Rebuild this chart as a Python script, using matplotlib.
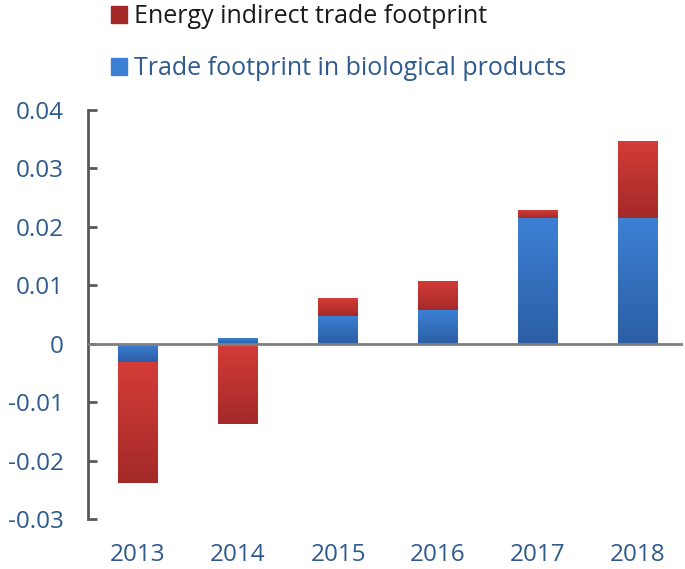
import numpy as np
import matplotlib
matplotlib.use('Agg')
import matplotlib.pyplot as plt
from matplotlib.colors import LinearSegmentedColormap
from matplotlib.patches import Patch

#%% datos
years = ['2013', '2014', '2015', '2016', '2017', '2018']
bio = [-0.0031, 0.0010, 0.0048, 0.0057, 0.0215, 0.0215]     # Trade footprint in biological products
energy = [-0.0207, -0.0137, 0.0030, 0.0050, 0.0013, 0.0132]  # Energy indirect trade footprint
yticks = [-0.03, -0.02, -0.01, 0, 0.01, 0.02, 0.03, 0.04]
ytick_labels = ['-0.03', '-0.02', '-0.01', '0', '0.01', '0.02', '0.03', '0.04']

lab_col = '#2E5A8E'
red_top, red_bot = '#D43C37', '#A42A29'
blue_top, blue_bot = '#3C80D4', '#2C5EA5'

plt.rcParams['font.family'] = ['Open Sans', 'DejaVu Sans']

fig = plt.figure(figsize=(6.85, 5.69), dpi=100)
ax = fig.add_axes([88/685, 1-519/569, (683-88)/685, (519-110)/569])

x = np.arange(len(years))
bio = np.array(bio)
energy = np.array(energy)
# la parte energetica se apila sobre la biologica (mismo signo) o desde 0 (signo opuesto)
base_e = np.where(np.sign(energy) == np.sign(bio), bio, 0.0)

b1 = ax.bar(x, bio, width=0.4, color=blue_bot, zorder=2)
b2 = ax.bar(x, energy, width=0.4, bottom=base_e, color=red_bot, zorder=2)

# gradiente vertical tipo Excel
def gradiente(bars, c_top, c_bot):
    cmap = LinearSegmentedColormap.from_list('g', [c_bot, c_top])
    grad = np.linspace(1, 0, 64).reshape(-1, 1)
    for p in bars:
        x0, y0 = p.get_x(), p.get_y()
        w, h = p.get_width(), p.get_height()
        ylo, yhi = min(y0, y0+h), max(y0, y0+h)
        im = ax.imshow(grad, cmap=cmap, aspect='auto', extent=(x0, x0+w, ylo, yhi),
                       origin='upper', zorder=2.5)
        im.set_clip_path(p)

gradiente(b1, blue_top, blue_bot)
gradiente(b2, red_top, red_bot)

ax.axhline(0, color='#808080', lw=2, zorder=3)

ax.set_xlim(-0.5, 5.45)
ax.set_ylim(-0.03, 0.04)
ax.set_yticks(yticks)
ax.set_yticklabels(ytick_labels)
ax.set_xticks(x)
ax.set_xticklabels(years)

for s in ['top', 'right', 'bottom']:
    ax.spines[s].set_visible(False)
ax.spines['left'].set_color('#595959')
ax.spines['left'].set_linewidth(2)

ax.tick_params(axis='y', direction='in', length=6.5, width=2, color='#595959',
               labelsize=17.5, labelcolor=lab_col, pad=17.5)
ax.tick_params(axis='x', length=0, labelsize=17.5, labelcolor=lab_col, pad=17.5)

handles = [Patch(color=red_bot), Patch(color=blue_top)]
leg = fig.legend(handles, ['Energy indirect trade footprint', 'Trade footprint in biological products'],
                 loc='upper left', bbox_to_anchor=(101/685, 1.0105), frameon=False,
                 fontsize=18, handlelength=0.65, handleheight=0.65, handletextpad=0.25,
                 labelspacing=1.08, borderaxespad=0)
leg.get_texts()[0].set_color('#1A1A1A')
leg.get_texts()[1].set_color(lab_col)

fig.savefig('out.png', dpi=100)
